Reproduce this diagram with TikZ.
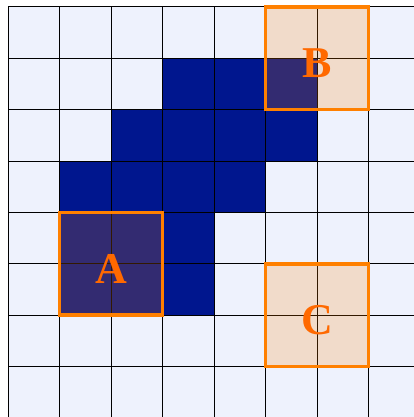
\documentclass[tikz,border=0pt]{standalone}
\usepackage{fontspec}
\setmainfont{Liberation Serif}
\definecolor{lightcell}{RGB}{238,242,253}
\definecolor{navy}{RGB}{0,22,142}
\definecolor{orng}{RGB}{255,128,0}
\definecolor{orngtext}{RGB}{255,105,0}
\newcommand{\lowlabel}[1]{\raisebox{-5pt}[\height][\depth]{#1}}
\tikzset{
  darkcell/.style={fill=navy},
  regbox/.style={draw=orng, line width=3.5pt, fill=orng, fill opacity=0.2, draw opacity=1, text opacity=1,
    minimum width=103pt, minimum height=102.7pt, inner sep=0pt, text=orngtext,
    font=\fontsize{44}{44}\selectfont\bfseries},
  gridline/.style={draw=black, line width=1pt}
}
\begin{document}
\begin{tikzpicture}
\useasboundingbox (0,0) rectangle (414pt,-417pt);
\clip (0,0) rectangle (414pt,-417pt);
\fill[white] (0,0) rectangle (414pt,-417pt);
\begin{scope}[shift={(8pt,-7pt)}, x=51.5pt, y=-51.35pt]
  \fill[lightcell] (0,0) rectangle (8,8);
  % dark cells
  \foreach \c/\r in {3/1,4/1,5/1, 2/2,3/2,4/2,5/2, 1/3,2/3,3/3,4/3, 1/4,2/4,3/4, 1/5,2/5,3/5}
    \fill[darkcell] (\c,\r) rectangle ++(1,1);
  \foreach \i in {0,...,8} {
    \draw[gridline] (\i,0) -- (\i,8);
    \draw[gridline] (0,\i) -- (8,\i);
  }
  \node[regbox] (A) at (2,5) {\lowlabel{A}};
  \node[regbox] (B) at (6,1) {\lowlabel{B}};
  \node[regbox] (C) at (6,6) {\lowlabel{C}};
\end{scope}
\end{tikzpicture}
\end{document}
